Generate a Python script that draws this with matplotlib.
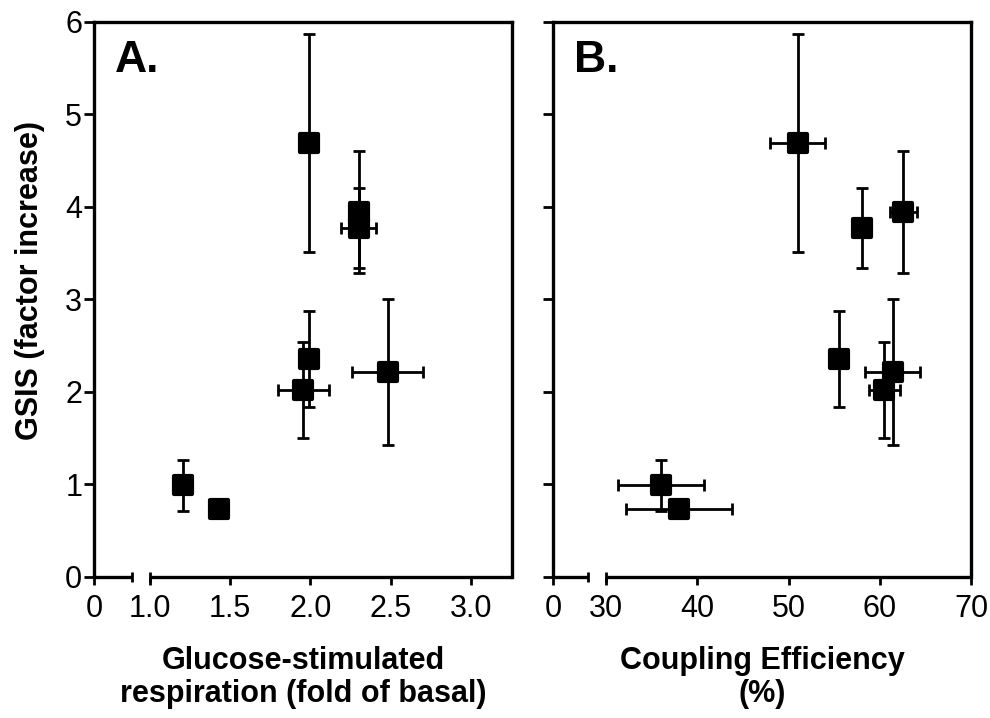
import numpy as np
import matplotlib
matplotlib.use("Agg")
import matplotlib.pyplot as plt
from matplotlib.markers import MarkerStyle

plt.rcParams['font.family'] = ['Liberation Sans', 'DejaVu Sans']

# GSIS (factor increase) with SEM, shared by both panels
gsis = [4.69, 3.95, 3.77, 2.36, 2.02, 2.22, 0.99, 0.73]
gsis_sem = [1.18, 0.66, 0.43, 0.52, 0.52, 0.79, 0.28, 0.08]

# Glucose-stimulated respiration (fold of basal) with SEM
resp = [1.99, 2.30, 2.30, 1.99, 1.955, 2.48, 1.205, 1.43]
resp_sem = [0.03, 0.03, 0.11, 0.03, 0.16, 0.22, 0.03, 0.03]

# Coupling efficiency (%) with SEM
coupling = [51.0, 62.6, 58.0, 55.5, 60.5, 61.4, 36.0, 38.0]
coupling_sem = [3.0, 1.5, 0.5, 0.7, 1.7, 3.0, 4.75, 5.85]

yticks = [0, 1, 2, 3, 4, 5, 6]
xticks_a = [0, 1.0, 1.5, 2.0, 2.5, 3.0]
xticklabels_a = ['0', '1.0', '1.5', '2.0', '2.5', '3.0']
xticks_b = [0, 30, 40, 50, 60, 70]
xticklabels_b = ['0', '30', '40', '50', '60', '70']


def broken_scale(k, xb):
    """Piecewise-linear scale: values below xb are squeezed by factor k."""
    def fwd(x):
        x = np.asarray(x, dtype=float)
        return np.where(x < xb, x * k, xb * k + (x - xb))

    def inv(y):
        y = np.asarray(y, dtype=float)
        return np.where(y < xb * k, y / k, y - xb * k + xb)
    return fwd, inv


fig = plt.figure(figsize=(9.9, 7.18), dpi=100)
ax_a = fig.add_axes([0.0949, 0.1964, 0.4222, 0.773])
ax_b = fig.add_axes([0.5586, 0.1964, 0.4222, 0.773])

LW = 2.4
sq = MarkerStyle('s', joinstyle='round')


def draw_panel(ax, x, xerr, k, xb, seg_end, xmax, ticks, ticklabels, label, tag, show_ylabels):
    ax.set_xscale('function', functions=broken_scale(k, xb))
    ax.set_xlim(0, xmax)
    ax.set_ylim(0, 6)

    ax.errorbar(x, gsis, xerr=xerr, yerr=gsis_sem, fmt='none', ecolor='black',
                elinewidth=2.0, capsize=4.2, capthick=2.0, zorder=2)
    ax.plot(x, gsis, ls='none', marker=sq, ms=13.5, mfc='black', mec='black',
            mew=3, zorder=3)

    for side in ('left', 'top', 'right'):
        ax.spines[side].set_linewidth(LW)
    ax.spines['bottom'].set_visible(False)

    # broken x axis: two segments with end marks
    tr = ax.get_xaxis_transform()
    ax.plot([0, seg_end], [0, 0], color='black', lw=LW, transform=tr,
            clip_on=False, solid_capstyle='butt', zorder=4)
    ax.plot([xb, xmax], [0, 0], color='black', lw=LW, transform=tr,
            clip_on=False, solid_capstyle='butt', zorder=4)
    ax.plot([seg_end, xb], [0, 0], ls='none', marker='|', ms=7, mew=2.0,
            color='black', transform=tr, clip_on=False, zorder=4)

    ax.set_xticks(ticks)
    ax.set_xticklabels(ticklabels)
    ax.set_yticks(yticks)
    ax.xaxis.set_minor_locator(matplotlib.ticker.NullLocator())
    ax.tick_params(axis='x', direction='out', length=6, width=2.0, pad=6,
                   labelsize=22, top=False)
    ax.tick_params(axis='y', direction='out', length=7, width=2.0, pad=1.5,
                   labelsize=22, right=False, labelleft=show_ylabels)

    ax.set_xlabel(label, fontsize=22, fontweight='bold', labelpad=16,
                  linespacing=1.12)
    ax.text(0.05, 0.91, tag, transform=ax.transAxes, fontsize=32,
            fontweight='bold', va='baseline', ha='left')


draw_panel(ax_a, resp, resp_sem, k=0.349, xb=1.0, seg_end=0.678, xmax=3.255,
           ticks=xticks_a, ticklabels=xticklabels_a,
           label='Glucose-stimulated\nrespiration (fold of basal)', tag='A.',
           show_ylabels=True)
draw_panel(ax_b, coupling, coupling_sem, k=0.1941, xb=30, seg_end=19.8, xmax=70,
           ticks=xticks_b, ticklabels=xticklabels_b,
           label='Coupling Efficiency\n(%)', tag='B.', show_ylabels=False)

ax_a.set_ylabel('GSIS (factor increase)', fontsize=22, fontweight='bold')
ax_a.yaxis.set_label_coords(-0.117, 0.535)

fig.savefig('out.png', dpi=100)
